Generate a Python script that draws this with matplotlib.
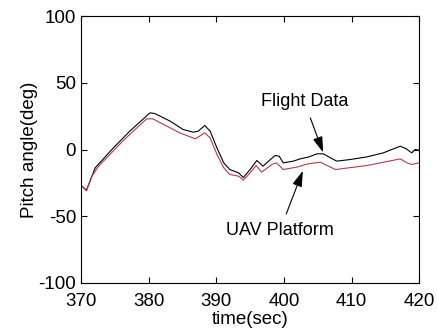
import matplotlib
matplotlib.use("Agg")
import matplotlib.pyplot as plt

plt.rcParams['font.family'] = ['Liberation Sans', 'DejaVu Sans']
plt.rcParams['axes.unicode_minus'] = False

# pitch angle samples (sec, deg)
t = [370, 370.8, 372.1, 374.8, 377.2, 380.2, 380.9, 383.2, 385.1, 386.6, 387.3,
     388.3, 389.1, 390.1, 391.1, 392, 393.3, 394, 395, 396, 396.9, 398, 398.7,
     399.3, 399.9, 401.4, 402.4, 403.6, 404.9, 405.8, 407.8, 409.8, 412.3,
     414.7, 417.2, 418.1, 418.9, 419.4, 420]
flight = [-27, -30.5, -13.7, 1.3, 13.7, 27.5, 27, 21.2, 15, 13, 13.7,
          18, 13.7, 1.2, -10, -15, -17.5, -21, -15, -8.2, -12.5, -7.5, -4.5,
          -5, -10, -8.7, -7, -5.7, -3.2, -3.2, -8.7, -7.5, -5.5,
          -2.5, 2.5, 0.5, -2.5, 0, -0.5]

t_uav = [370, 370.8, 371.6, 372.6, 376.3, 379.7, 380.6, 382.7, 384.6, 386.9,
         388.3, 389.1, 390.1, 391.1, 392, 393.3, 394, 395, 395.9, 396.7, 398.2,
         398.9, 399.9, 401.9, 403.6, 405.4, 407.6, 412.3, 417.2, 418.2, 418.9,
         420]
uav = [-26.5, -31, -20, -12.5, 7, 23, 23, 17.5, 12.5, 8,
       12.5, 8.7, -3.7, -13.7, -18.7, -20, -23, -17.5, -12, -17, -11.2,
       -10, -15, -13.2, -10.7, -9.5, -15, -12, -7, -10, -11.2,
       -10]

fig = plt.figure(figsize=(4.38, 3.36), dpi=100)
ax = fig.add_axes([0.185, 0.158, 0.772, 0.794])

ax.plot(t, flight, color='black', lw=0.8)
ax.plot(t_uav, uav, color='#b83848', lw=0.8)

ax.set_xlim(370, 420)
ax.set_ylim(-100, 100)
ax.set_xticks([370, 380, 390, 400, 410, 420])
ax.set_yticks([-100, -50, 0, 50, 100])
ax.tick_params(direction='in', top=True, right=True, labelsize=13.5,
               length=4)
ax.tick_params(axis='x', pad=7)
ax.set_xlabel('time(sec)', fontsize=13.5, labelpad=1)
ax.set_ylabel('Pitch angle(deg)', fontsize=13.5, labelpad=0)

arrow = dict(arrowstyle='-|>,head_length=0.8,head_width=0.25',
             color='black', lw=0.8, mutation_scale=12, shrinkA=4, shrinkB=0)
ax.annotate('Flight Data', xy=(405.8, -2.2), xytext=(403, 36),
            ha='center', va='center', fontsize=13, arrowprops=arrow)
ax.annotate('UAV Platform', xy=(402.8, -16), xytext=(399.4, -60.7),
            ha='center', va='center', fontsize=13, arrowprops=arrow)

fig.savefig('out.png', dpi=100)
